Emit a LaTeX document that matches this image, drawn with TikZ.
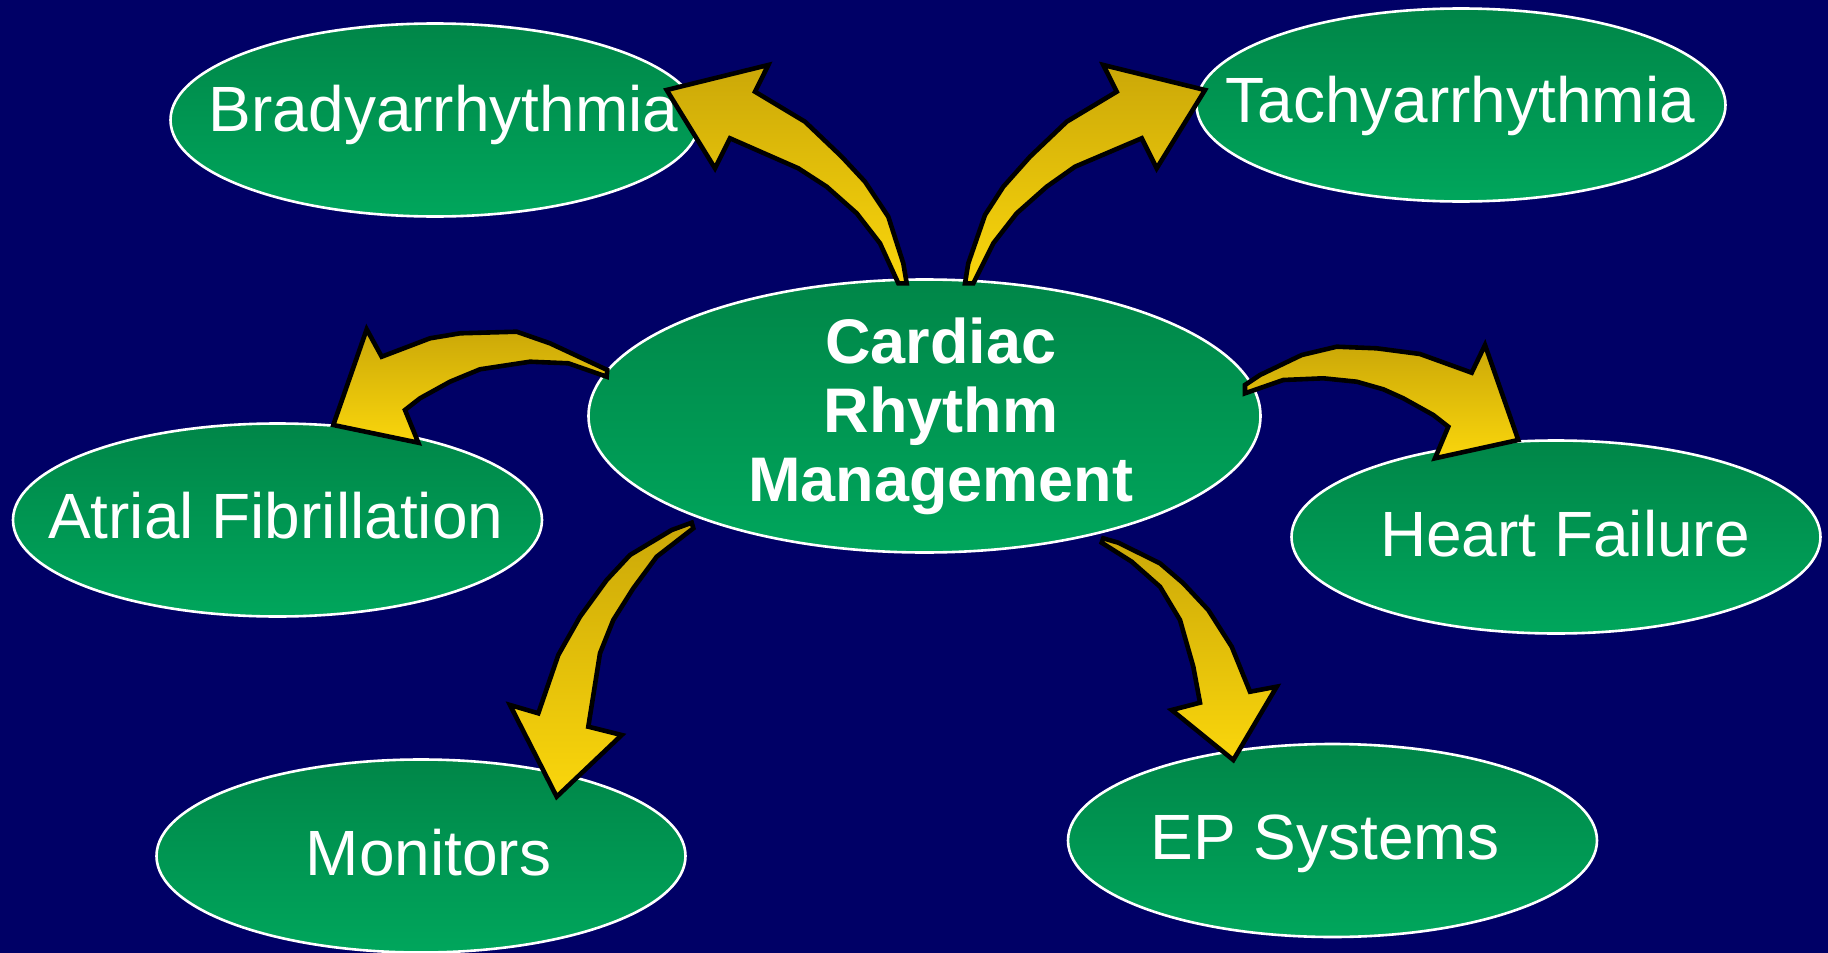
\documentclass[tikz,border=0pt]{standalone}
\usepackage{fontspec}
\setmainfont{Liberation Sans}
\usetikzlibrary{shapes.geometric}

\definecolor{navy}{RGB}{0,0,102}
\definecolor{leafTop}{RGB}{0,134,72}
\definecolor{leafBot}{RGB}{0,166,92}
\definecolor{goldTop}{RGB}{203,168,8}
\definecolor{goldBot}{RGB}{250,214,12}

\tikzset{
  bubble/.style={ellipse, draw=white, line width=1.3pt,
    top color=leafTop, bottom color=leafBot, inner sep=0pt,
    minimum width=264.5pt, minimum height=96.5pt},
  hubbubble/.style={bubble, minimum width=336pt, minimum height=136.5pt},
  bubtext/.style={text=white, font=\fontsize{32}{34.5}\selectfont,
    inner sep=0pt, anchor=base},
  hubtext/.style={text=white, font=\fontsize{31.5}{34.5}\selectfont\bfseries,
    align=center, inner sep=0pt},
  fatarrow/.style={draw=black, line width=2.3pt,
    top color=goldTop, bottom color=goldBot}
}

\begin{document}
\begin{tikzpicture}[x=0.5pt,y=-0.5pt]
  % backdrop
  \fill[navy] (0,0) rectangle (1828,953);
  \useasboundingbox (0,0) rectangle (1828,953);

  % topic ellipses
  \node[hubbubble] (hub)    at (924.5,416) {};
  \node[bubble]    (brady)  at (435,120)   {};
  \node[bubble]    (tachy)  at (1461,105)  {};
  \node[bubble]    (afib)   at (277.5,520) {};
  \node[bubble]    (hf)     at (1556,537)  {};
  \node[bubble]    (mon)    at (421,856)   {};
  \node[bubble]    (ep)     at (1332.5,840.5) {};

  % labels
  \node[hubtext] (hubt) at (940.8,416) {Cardiac\\Rhythm\\Management};
  \node[bubtext] (bradyt) at (443.6,131.7) {Bradyarrhythmia};
  \node[bubtext] (tachyt) at (1460.2,122.4) {Tachyarrhythmia};
  \node[bubtext] (afibt)  at (275.7,538.6) {Atrial Fibrillation};
  \node[bubtext] (hft)    at (1565,556) {Heart Failure};
  \node[bubtext] (mont)   at (428.4,875.5) {Monitors};
  \node[bubtext] (ept)    at (1325,859.2) {EP Systems};

  % curved block arrows out of the hub
  % to Bradyarrhythmia
  \path[fatarrow] (906.7,283.3) -- (903.3,263.3) -- (888.3,216.7) -- (865,181.7)
    -- (841.7,156.7) -- (805,121.7) -- (755,91.7) -- (768.3,65) -- (666.7,90)
    -- (715,168.3) -- (730,138.3) -- (798.3,168.3) -- (826.7,186.7)
    -- (856.7,213.3) -- (880,243.3) -- (898.3,283.3) -- cycle;
  % to Tachyarrhythmia
  \path[fatarrow] (965,283.3) -- (968.3,263.3) -- (985,215) -- (1003.3,186.7)
    -- (1030,156.7) -- (1066.7,121.7) -- (1116.7,91.7) -- (1103.3,65)
    -- (1205,90) -- (1156.7,168.3) -- (1141.7,138.3) -- (1075,166.7)
    -- (1046.7,186.7) -- (1016.7,213.3) -- (993.3,243.3) -- (973.3,283.3) -- cycle;
  % to Atrial Fibrillation
  \path[fatarrow] (607.3,370) -- (550,343.3) -- (516.7,331.7) -- (460,333.3)
    -- (430,338.3) -- (381.7,356.7) -- (366.7,329.3) -- (333.3,425)
    -- (418.3,442.7) -- (405,410) -- (420,398.3) -- (450,381.7) -- (480,369.3)
    -- (530,361.7) -- (568.3,363.3) -- (606.7,376.7) -- cycle;
  % to Heart Failure
  \path[fatarrow] (1245,385) -- (1260,375) -- (1301.7,355) -- (1336.7,346.7)
    -- (1376.7,348.3) -- (1420,354) -- (1471.7,372.7) -- (1485,345)
    -- (1518.3,440) -- (1435,458.3) -- (1448.3,426.7) -- (1433.3,415)
    -- (1403.3,398.3) -- (1383.3,389.3) -- (1356.7,381.7) -- (1323.3,378.3)
    -- (1283.3,380) -- (1245,393.3) -- cycle;
  % to Monitors
  \path[fatarrow] (691.7,522.7) -- (671.7,530) -- (630,555) -- (606.7,580)
    -- (580,616.7) -- (558.3,655) -- (538.3,713.3) -- (510,705)
    -- (556.7,796.7) -- (621.7,735) -- (588.3,726.7) -- (600,653.3)
    -- (613.3,620) -- (633.3,588.3) -- (656.7,556.7) -- (693.3,528.3) -- cycle;
  % to EP Systems
  \path[fatarrow] (1103.3,538.3) -- (1118.3,542.7) -- (1160,563.3)
    -- (1183.3,583.3) -- (1208.3,610) -- (1231.7,646.7) -- (1250,691.7)
    -- (1276.7,686.7) -- (1233.3,760) -- (1171.7,710) -- (1200,702.7)
    -- (1193.3,666.7) -- (1180,620) -- (1160,586.7) -- (1131.7,561.7)
    -- (1101.7,542.7) -- cycle;
\end{tikzpicture}
\end{document}
